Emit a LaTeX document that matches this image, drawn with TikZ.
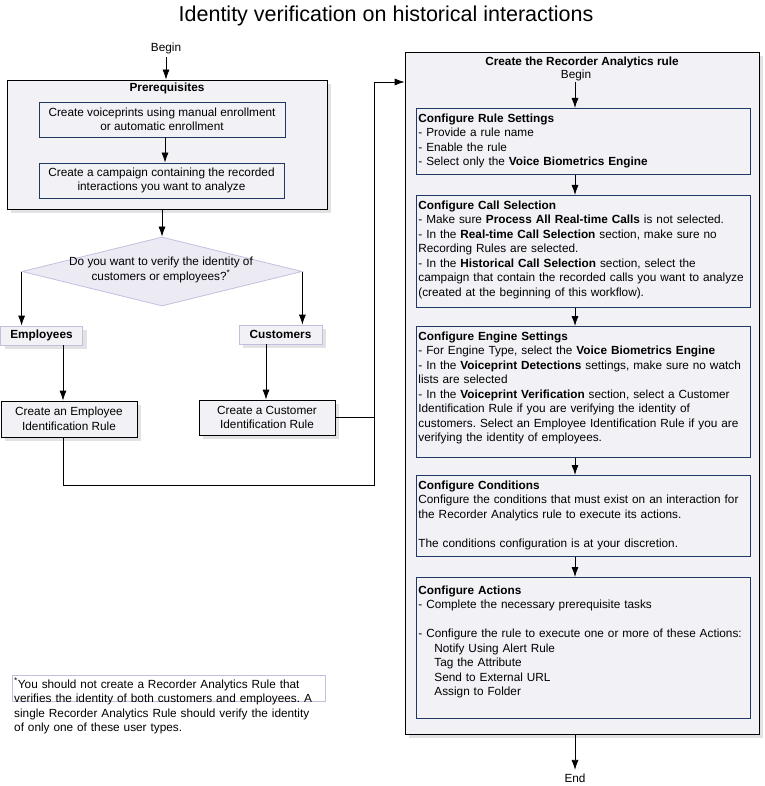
\documentclass[tikz,border=0pt]{standalone}
\usepackage{fontspec}
\setmainfont{Liberation Sans}
\usetikzlibrary{arrows.meta,shapes.geometric,shadows}

\definecolor{boxfill}{RGB}{242,241,246}
\definecolor{navy}{RGB}{31,56,100}
\definecolor{lavline}{RGB}{198,190,222}
\definecolor{lavfill}{RGB}{236,234,243}
\definecolor{shadowgray}{RGB}{226,226,229}

\frenchspacing
\hyphenpenalty=10000

\begin{document}
\begin{tikzpicture}[x=1pt,y=-1pt,->,>={Latex[length=10pt,width=7pt]},thick,
  every node/.append style={font=\fontsize{11.8}{14.5}\selectfont},
  shadowed/.style={drop shadow={shadow xshift=4pt,shadow yshift=-4pt,fill=shadowgray,opacity=1}},
  outer box/.style={draw,fill=boxfill,shadowed},
  inner box/.style={draw=navy,fill=boxfill,align=center,inner sep=2pt},
  choice box/.style={draw=lavline,fill=boxfill,inner sep=2pt,shadowed},
  rule box/.style={draw,fill=boxfill,align=center,inner sep=2pt,shadowed},
  step box/.style={draw=navy,fill=boxfill,anchor=north west,text width=330pt,
    inner xsep=2pt,inner ysep=0pt,align=left,text height=14pt}]

  \useasboundingbox (0,0) rectangle (764,786);

  \node[font=\fontsize{21.5}{26}\selectfont] (title) at (386,16) {Identity verification on historical interactions};

  % left column
  \node (begin) at (166,48) {Begin};
  \node[outer box,minimum width=320pt,minimum height=129pt] (prereq) at (167,144.5) {};
  \node (prereqTitle) at (167,88) {\textbf{Prerequisites}};
  \node[inner box,minimum width=246pt,minimum height=35pt] (voice) at (162,119.5)
    {Create voiceprints using manual enrollment\\or automatic enrollment};
  \node[inner box,minimum width=245pt,minimum height=35pt] (campaign) at (161.5,180.5)
    {Create a campaign containing the recorded\\interactions you want to analyze};

  \node[diamond,draw=lavline,fill=lavfill,minimum width=280pt,minimum height=69pt,inner sep=0pt] (ask) at (162,271.5) {};
  \node[align=center] (askText) at (161,270) {Do you want to verify the identity of\\customers or employees?\textsuperscript{*}};

  \node[choice box,minimum width=82pt,minimum height=19pt] (emp) at (41.5,335.5) {\textbf{Employees}};
  \node[choice box,minimum width=83pt,minimum height=19pt] (cust) at (280.5,334.5) {\textbf{Customers}};

  \node[rule box,minimum width=136pt,minimum height=36pt] (empRule) at (69,419) {Create an Employee\\Identification Rule};
  \node[rule box,minimum width=136pt,minimum height=35pt] (custRule) at (267,417.5) {Create a Customer\\Identification Rule};

  \coordinate (voiceLine) at (165,0);
  \coordinate (empLine) at (63,0);
  \coordinate (custLine) at (266,0);
  \coordinate (loopLow) at (374,485);
  \coordinate (loopHigh) at (374,82);

  \path
    (begin) edge (begin |- prereq.north)
    (voiceLine |- voice.south) edge (voiceLine |- campaign.north)
    (ask.north |- prereq.south) edge (ask.north)
    (ask.west) edge (ask.west |- emp.north)
    (ask.east) edge (ask.east |- cust.north)
    (empLine |- emp.south) edge (empLine |- empRule.north)
    (custLine |- cust.south) edge (custLine |- custRule.north);

  % footnote
  \node[draw=lavline,thin,anchor=north west,text width=309pt,inner xsep=2pt,inner ysep=0pt,
    text height=13pt,text depth=13pt,align=left] (note) at (12,675)
    {\textsuperscript{*}You should not create a Recorder Analytics Rule that\\verifies the identity of both customers and employees. A\\single Recorder Analytics Rule should verify the identity\\of only one of these user types.};

  % right column
  \node[outer box,minimum width=354pt,minimum height=682pt] (ruleBox) at (582,393) {};
  \node[inner sep=1pt] (ruleTitle) at (582,62) {\textbf{Create the Recorder Analytics rule}};
  \node[inner sep=1pt] (ruleBegin) at (576,75.5) {Begin};

  \node[step box,text depth=52pt] (settings) at (416,108)
    {\textbf{Configure Rule Settings}\\- Provide a rule name\\- Enable the rule\\- Select only the \textbf{Voice Biometrics Engine}};
  \node[step box,text depth=98pt] (callSel) at (416,195)
    {\textbf{Configure Call Selection}\\- Make sure \textbf{Process All Real-time Calls} is not selected.\\- In the \textbf{Real-time Call Selection} section, make sure no\\Recording Rules are selected.\\- In the \textbf{Historical Call Selection} section, select the\\campaign that contain the recorded calls you want to analyze\\(created at the beginning of this workflow).};
  \node[step box,text depth=117pt] (engine) at (416,326)
    {\textbf{Configure Engine Settings}\\- For Engine Type, select the \textbf{Voice Biometrics Engine}\\- In the \textbf{Voiceprint Detections} settings, make sure no watch\\lists are selected\\- In the \textbf{Voiceprint Verification} section, select a Customer\\Identification Rule if you are verifying the identity of\\customers. Select an Employee Identification Rule if you are\\verifying the identity of employees.};
  \node[step box,text depth=67pt] (conditions) at (416,475)
    {\textbf{Configure Conditions}\\Configure the conditions that must exist on an interaction for\\the Recorder Analytics rule to execute its actions.\\[14.5pt]The conditions configuration is at your discretion.};
  \node[step box,text height=17pt,text depth=124pt] (actions) at (416,577)
    {\textbf{Configure Actions}\\- Complete the necessary prerequisite tasks\\[14.5pt]- Configure the rule to execute one or more of these Actions:\\\hspace*{16pt}Notify Using Alert Rule\\\hspace*{16pt}Tag the Attribute\\\hspace*{16pt}Send to External URL\\\hspace*{16pt}Assign to Folder};

  \node (end) at (575,778) {End};
  \coordinate (col) at (575,0);

  \foreach \a/\b in {ruleBegin/settings,settings/callSel,callSel/engine,engine/conditions,conditions/actions}
    \draw (col |- \a.south) -- (col |- \b.north);
  \draw (col |- ruleBox.south) -- (end);

  % feed into the rule
  \draw (empLine |- empRule.south) |- (loopLow) -- (loopHigh) -- (loopHigh -| ruleBox.west);
  \draw[-] (custRule.east) -- (custRule.east -| loopLow);
\end{tikzpicture}
\end{document}
